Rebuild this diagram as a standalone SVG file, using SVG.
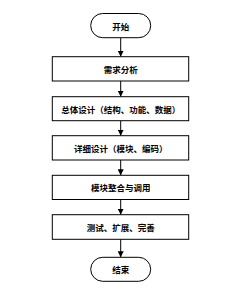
<svg xmlns="http://www.w3.org/2000/svg" width="243" height="297" viewBox="0 0 243 297">
<style>
.box{fill:#fff;stroke:#000;stroke-width:1}
.t{font-family:"Noto Sans CJK SC","Noto Sans",sans-serif;font-size:8.5px;font-weight:bold;text-anchor:middle;dominant-baseline:central;fill:#000}
.c{stroke:#000;stroke-width:1;fill:none;marker-end:url(#ah)}
</style>
<defs>
<marker id="ah" viewBox="0 0 6 6" refX="6" refY="3" markerWidth="6" markerHeight="6" markerUnits="userSpaceOnUse" orient="auto">
<path d="M0,0 L6,3 L0,6 Z" fill="#000"/>
</marker>
</defs>
<rect width="243" height="297" fill="#fff"/>
<g id="connectors">
<line class="c" x1="120.7" y1="37.7" x2="120.7" y2="56.7"/>
<line class="c" x1="120.7" y1="81" x2="120.7" y2="96.7"/>
<line class="c" x1="120.7" y1="120.7" x2="120.7" y2="135.7"/>
<line class="c" x1="120.7" y1="160" x2="120.7" y2="175.3"/>
<line class="c" x1="120.7" y1="199.5" x2="120.7" y2="214.7"/>
<line class="c" x1="120.7" y1="239.3" x2="120.7" y2="257.3"/>
</g>
<g id="start">
<rect class="box" x="90.7" y="13.5" width="60" height="24.2" rx="12" ry="12"/>
<text class="t" x="120.7" y="25.6">开始</text>
</g>
<g id="n1">
<rect class="box" x="52.3" y="56.7" width="136.4" height="24.3"/>
<text class="t" x="120.7" y="69">需求分析</text>
</g>
<g id="n2">
<rect class="box" x="52.3" y="96.7" width="136.4" height="24"/>
<text class="t" x="120.7" y="108.5">总体设计（结构、功能、数据）</text>
</g>
<g id="n3">
<rect class="box" x="52.3" y="135.7" width="136.4" height="24.3"/>
<text class="t" x="120.7" y="147.8">详细设计（模块、编码）</text>
</g>
<g id="n4">
<rect class="box" x="52.3" y="175.3" width="136.4" height="24.2"/>
<text class="t" x="120.7" y="187.4">模块整合与调用</text>
</g>
<g id="n5">
<rect class="box" x="52.3" y="214.7" width="136.4" height="24.6"/>
<text class="t" x="120.7" y="227">测试、扩展、完善</text>
</g>
<g id="end">
<rect class="box" x="90.7" y="257.3" width="60" height="24" rx="12" ry="12"/>
<text class="t" x="120.7" y="269.3">结束</text>
</g>
</svg>
